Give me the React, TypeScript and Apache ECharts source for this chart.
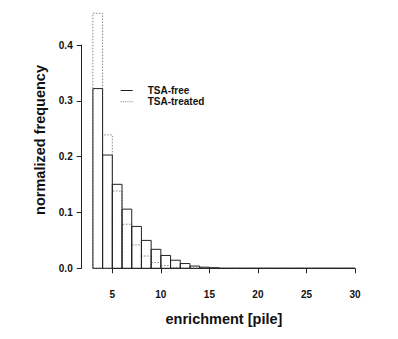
import React, { useEffect, useRef } from "react";
import * as echarts from "echarts";

// histogram bins (left edges, width 1)
const binLefts = [3, 4, 5, 6, 7, 8, 9, 10, 11, 12, 13, 14, 15, 16, 17, 18, 19, 20, 21, 22, 23, 24, 25, 26, 27, 28, 29];
const freeFreq = [0.322, 0.203, 0.1505, 0.106, 0.075, 0.05, 0.034, 0.023, 0.0145, 0.0085, 0.004, 0.002, 0.001, 0, 0, 0, 0, 0, 0, 0, 0, 0, 0, 0, 0, 0, 0];
const treatedFreq = [0.457, 0.239, 0.1385, 0.079, 0.042, 0.022, 0.0105, 0.005, 0.0015, 0.0005, 0, 0, 0, 0, 0, 0, 0, 0, 0, 0, 0, 0, 0, 0, 0, 0, 0];
const xTicks = [5, 10, 15, 20, 25, 30];
const yTicks = [0, 0.1, 0.2, 0.3, 0.4];
const seriesNames = ["TSA-free", "TSA-treated"];

const FONT = "'Liberation Sans', Arial, Helvetica, sans-serif";

function makeRender(stroke: string, dash: number[] | null) {
  return (params: any, api: any) => {
    const x0 = api.value(0);
    const x1 = api.value(1);
    const v = api.value(2);
    const pTop = api.coord([x0, v]);
    const pBot = api.coord([x1, 0]);
    return {
      type: "polygon",
      shape: {
        points: [
          [pTop[0], pBot[1]],
          [pTop[0], pTop[1]],
          [pBot[0], pTop[1]],
          [pBot[0], pBot[1]],
        ],
      },
      style: {
        fill: "none",
        stroke,
        lineWidth: 1,
        lineDash: dash || undefined,
      },
    };
  };
}

export default function App() {
  const ref = useRef<HTMLDivElement>(null);
  useEffect(() => {
    if (!ref.current) return;
    const chart = echarts.init(ref.current, null, { renderer: "svg" });
    const freeData = binLefts.map((l, i) => [l, l + 1, freeFreq[i]]);
    const treatedData = binLefts.map((l, i) => [l, l + 1, treatedFreq[i]]);
    const dottedIcon =
      "path://" +
      [0, 2, 4, 6, 8, 10].map((x) => `M${x},4.5h1v1h-1z`).join(" ");
    chart.setOption({
      animation: false,
      backgroundColor: "#fff",
      textStyle: { fontFamily: FONT },
      grid: [
        { left: 92.9, right: 43, top: 11.6, bottom: 70.7 },
        { left: 112.3, right: 43, top: 45.1, bottom: 70.7 },
      ],
      xAxis: [
        {
          type: "value",
          gridIndex: 0,
          min: 3,
          max: 30,
          axisLine: { show: false },
          axisTick: { show: false },
          axisLabel: { show: false },
          splitLine: { show: false },
          name: "enrichment [pile]",
          nameLocation: "middle",
          nameGap: 43,
          nameTextStyle: { fontFamily: FONT, fontWeight: "bold", fontSize: 14.5, color: "#111" },
        },
        {
          type: "value",
          gridIndex: 1,
          min: xTicks[0],
          max: xTicks[xTicks.length - 1],
          interval: 5,
          position: "bottom",
          offset: 12.4,
          axisLine: { show: true, lineStyle: { color: "#222", width: 1 } },
          axisTick: { show: true, inside: false, length: 5, lineStyle: { color: "#222" } },
          axisLabel: { fontFamily: FONT, fontWeight: "bold", fontSize: 10, color: "#111", margin: 9 },
          splitLine: { show: false },
        },
      ],
      yAxis: [
        {
          type: "value",
          gridIndex: 0,
          min: 0,
          max: 0.46,
          axisLine: { show: false },
          axisTick: { show: false },
          axisLabel: { show: false },
          splitLine: { show: false },
          name: "normalized frequency",
          nameLocation: "middle",
          nameGap: 45,
          nameTextStyle: { fontFamily: FONT, fontWeight: "bold", fontSize: 14.5, color: "#111" },
        },
        {
          type: "value",
          gridIndex: 1,
          min: yTicks[0],
          max: yTicks[yTicks.length - 1],
          interval: 0.1,
          position: "left",
          offset: 30.6,
          axisLine: { show: true, lineStyle: { color: "#222", width: 1 } },
          axisTick: { show: true, inside: false, length: 5, lineStyle: { color: "#222" } },
          axisLabel: {
            fontFamily: FONT,
            fontWeight: "bold",
            fontSize: 10,
            color: "#111",
            margin: 9,
            formatter: (v: number) => v.toFixed(1),
          },
          splitLine: { show: false },
        },
      ],
      legend: {
        orient: "vertical",
        left: 115.7,
        top: 80.5,
        padding: 5,
        itemWidth: 12,
        itemHeight: 10,
        itemGap: 1.3,
        selectedMode: false,
        textStyle: { fontFamily: FONT, fontWeight: "bold", fontSize: 10, color: "#111", padding: [0, 0, 0, 10] },
        data: [
          {
            name: seriesNames[0],
            icon: "path://M0,4.5L12,4.5L12,5.5L0,5.5Z",
            itemStyle: { color: "#222", borderWidth: 0 },
          },
          {
            name: seriesNames[1],
            icon: dottedIcon,
            itemStyle: { color: "#888", borderWidth: 0 },
          },
        ],
      },
      series: [
        {
          name: seriesNames[1],
          type: "custom",
          xAxisIndex: 0,
          yAxisIndex: 0,
          renderItem: makeRender("#888", [1.5, 1.5]),
          data: treatedData,
          itemStyle: { color: "#888" },
          z: 1,
        },
        {
          name: seriesNames[0],
          type: "custom",
          xAxisIndex: 0,
          yAxisIndex: 0,
          renderItem: makeRender("#222", null),
          data: freeData,
          itemStyle: { color: "#222" },
          z: 2,
        },
      ],
    });
    return () => chart.dispose();
  }, []);
  return (
    <div
      ref={ref}
      style={{ position: "fixed", left: 0, top: 0, width: 398, height: 339, background: "#fff" }}
    />
  );
}
